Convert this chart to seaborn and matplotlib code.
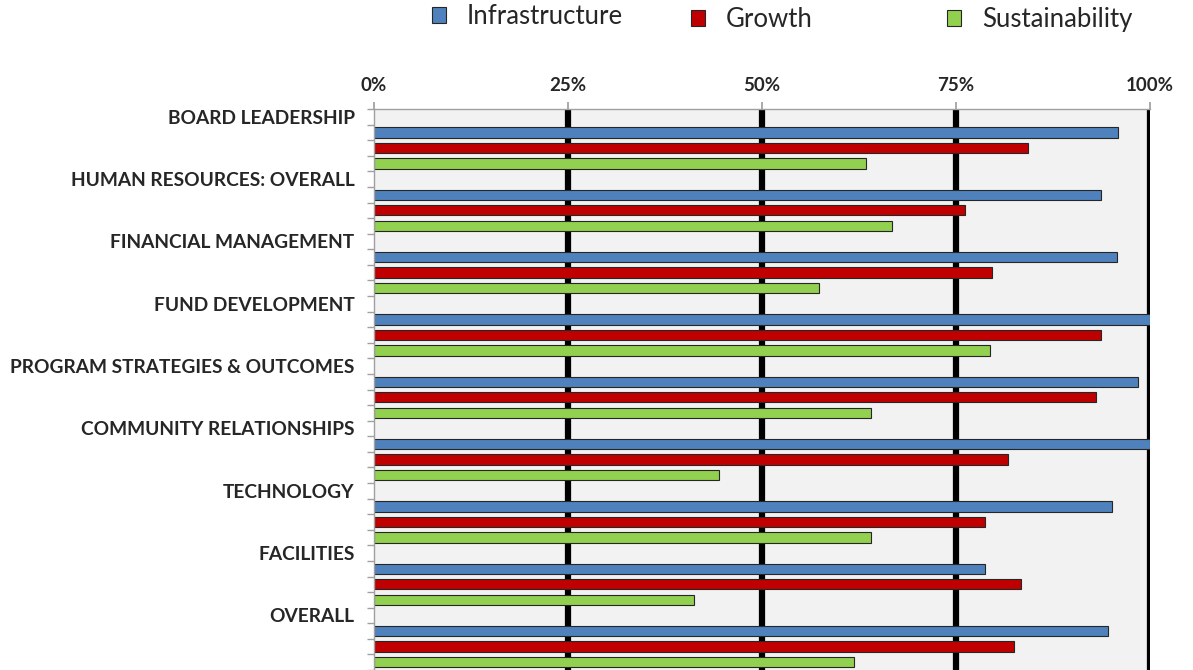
import matplotlib.pyplot as plt
import matplotlib.ticker as mticker
import seaborn as sns
import pandas as pd

categories = ["BOARD LEADERSHIP", "HUMAN RESOURCES: OVERALL", "FINANCIAL MANAGEMENT",
              "FUND DEVELOPMENT", "PROGRAM STRATEGIES & OUTCOMES", "COMMUNITY RELATIONSHIPS",
              "TECHNOLOGY", "FACILITIES", "OVERALL"]
series = ["Infrastructure", "Growth", "Sustainability"]
infrastructure = [0.959, 0.937, 0.957, 1.000, 0.985, 1.000, 0.951, 0.787, 0.946]
growth = [0.843, 0.761, 0.796, 0.937, 0.930, 0.817, 0.787, 0.834, 0.825]
sustainability = [0.634, 0.668, 0.574, 0.794, 0.640, 0.444, 0.640, 0.412, 0.619]
tick_labels = ["0%", "25%", "50%", "75%", "100%"]

colors = {"Infrastructure": "#4F81BD", "Growth": "#C00000", "Sustainability": "#92D050"}

# each category: one empty row for its label, then one row per series
slots = []
rows = []
for i, cat in enumerate(categories):
    slots.append(cat)
    for s, vals in zip(series, [infrastructure, growth, sustainability]):
        name = f"{cat}|{s}"
        slots.append(name)
        rows.append({"slot": name, "series": s, "value": vals[i]})
df = pd.DataFrame(rows)

sns.set_theme(style="white")
plt.rcParams["font.family"] = ["Lato", "DejaVu Sans"]

fig = plt.figure(figsize=(11.93, 6.70), dpi=100)
ax = fig.add_axes([374 / 1193, 0.0, 776 / 1193, 1 - 109 / 670])
ax.set_facecolor("#F2F2F2")

for x in [0.25, 0.5, 0.75, 1.0]:
    ax.axvline(x, color="black", lw=4.5, zorder=0)

sns.barplot(data=df, x="value", y="slot", hue="series", order=slots, hue_order=series,
            palette=colors, saturation=1, dodge=False, width=0.66, edgecolor="#262626",
            linewidth=0.8, ax=ax, zorder=2)

ax.set_xlim(0, 1.0)
ax.set_ylim(len(slots) - 0.5, -0.5)
ax.xaxis.tick_top()
ax.set_xticks([0, 0.25, 0.5, 0.75, 1.0])
ax.set_xticklabels(tick_labels, fontsize=13.5, fontweight="bold")
ax.tick_params(axis="x", length=5, color="#A0A0A0", pad=6, top=True, bottom=False)

label_pos = [i * 4 for i in range(len(categories))]
ax.set_yticks(label_pos)
ax.set_yticklabels(categories, fontsize=13.8, fontweight="bold")
ax.tick_params(axis="y", which="major", length=0, pad=14)
ax.yaxis.set_minor_locator(mticker.FixedLocator([k + 0.5 for k in range(-1, len(slots))]))
ax.tick_params(axis="y", which="minor", length=5, color="#A0A0A0", left=True)
ax.set_xlabel("")
ax.set_ylabel("")

for side in ["top", "left"]:
    ax.spines[side].set_color("#A0A0A0")
    ax.spines[side].set_linewidth(1)
ax.spines["right"].set_visible(False)
ax.spines["bottom"].set_visible(False)

# legend entries are spaced unevenly in the original, so place each one on its own
handles, labels = ax.get_legend_handles_labels()
ax.get_legend().remove()
for h, lab, x0, y0 in zip(handles, labels, [432, 691, 947], [4, 7, 7]):
    fig.legend([h], [lab], loc="upper left", frameon=False,
               bbox_to_anchor=(x0 / 1193, 1 - y0 / 670),
               borderpad=0, borderaxespad=0, fontsize=18.5, handlelength=0.55,
               handleheight=0.55, handletextpad=0.8)

fig.savefig("out.png", dpi=100)
